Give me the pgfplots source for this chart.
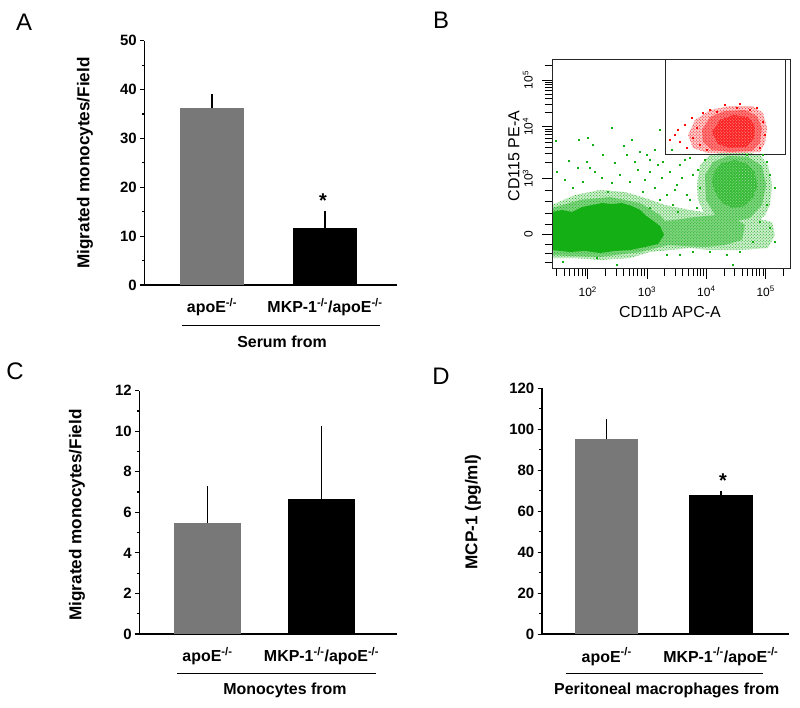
\documentclass[border=0pt]{standalone}
\usepackage{pgfplots}
\pgfplotsset{compat=1.18}
\usepackage{fontspec}
\setmainfont{Liberation Sans}
\usetikzlibrary{patterns}
\definecolor{bargray}{RGB}{120,120,120}
\definecolor{flowgreen}{RGB}{20,175,20}
\definecolor{flowred}{RGB}{250,10,10}
\pgfplotsset{
  barpanel/.style={
    scale only axis, anchor=south west,
    axis lines=left, axis line style={-, line width=1.6bp, black},
    ymin=0, xtick={1,2},
    xtick style={draw=none},
    ytick style={line width=1.2bp, black},
    tick align=outside, major tick length=4bp, minor tick length=2.5bp,
    minor y tick num=1,
    x tick label style={font=\bfseries\fontsize{16}{19}\selectfont, yshift=-6bp},
    y tick label style={font=\bfseries\fontsize{15}{18}\selectfont},
    /pgf/number format/assume math mode=true,
    xticklabels={apoE\textsuperscript{-/-}, MKP-1\textsuperscript{-/-}/apoE\textsuperscript{-/-}},
    clip=false,
  },
  errbar/.style={ybar, bar shift=0pt, draw=none,
    error bars/y dir=plus, error bars/y explicit,
    error bars/error bar style={line width=1.5bp, black},
    error bars/error mark options={line width=1.5bp, black, mark size=2bp}},
  medium/.style={draw=none, fill=#1!22, postaction={pattern=crosshatch dots, pattern color=#1}},
  semi/.style={draw=none, fill=#1!55, postaction={pattern=crosshatch dots, pattern color=#1}},
}
\begin{document}
\begin{tikzpicture}
\useasboundingbox (0,0) rectangle (800bp,708bp);

% ---------------- Panel A ----------------
\begin{axis}[barpanel, at={(144.3bp,423bp)}, width=252.7bp, height=244.3bp,
  xmin=0.401, xmax=2.637, ymax=50, ytick={0,10,20,30,40,50}]
\addplot[errbar, bar width=64bp, fill=bargray] coordinates {(1,36.2) +- (0,2.4)};
\addplot[errbar, bar width=64bp, fill=black] coordinates {(2,11.6) +- (0,3.1)};
\end{axis}
\node[font=\fontsize{24}{28}\selectfont] at (24bp,686bp) {A};
\node[rotate=90, font=\bfseries\fontsize{17.2}{20}\selectfont] at (85bp,545bp) {Migrated monocytes/Field};
\node[font=\bfseries\fontsize{20}{24}\selectfont] at (323bp,507bp) {*};
\draw[line width=1bp] (182bp,382bp) -- (380bp,382bp);
\node[font=\bfseries\fontsize{16}{19}\selectfont] at (282bp,366bp) {Serum from};

% ---------------- Panel C ----------------
\begin{axis}[barpanel, at={(139.3bp,74bp)}, width=257.7bp, height=243.3bp,
  xmin=0.402, xmax=2.662, ymax=12, ytick={0,2,4,6,8,10,12}]
\addplot[errbar, bar width=67bp, fill=bargray] coordinates {(1,5.47) +- (0,1.74)};
\addplot[errbar, bar width=67bp, fill=black] coordinates {(2,6.66) +- (0,3.48)};
\end{axis}
\node[font=\fontsize{24}{28}\selectfont] at (15bp,336.5bp) {C};
\node[rotate=90, font=\bfseries\fontsize{17.2}{20}\selectfont] at (77bp,193bp) {Migrated monocytes/Field};
\draw[line width=1bp] (177bp,34bp) -- (376bp,34bp);
\node[font=\bfseries\fontsize{16}{19}\selectfont] at (285bp,18bp) {Monocytes from};

% ---------------- Panel D ----------------
\begin{axis}[barpanel, at={(541.7bp,73.7bp)}, width=247.3bp, height=246bp,
  xmin=0.430, xmax=2.598, ymax=120, ytick={0,20,40,60,80,100,120}]
\addplot[errbar, bar width=63.5bp, fill=bargray] coordinates {(1,95.4) +- (0,8.8)};
\addplot[errbar, bar width=63.5bp, fill=black] coordinates {(2,68.0) +- (0,1.1)};
\end{axis}
\node[font=\fontsize{24}{28}\selectfont] at (441bp,332bp) {D};
\node[rotate=90, font=\bfseries\fontsize{17.2}{20}\selectfont] at (473bp,196bp) {MCP-1 (pg/ml)};
\node[font=\bfseries\fontsize{20}{24}\selectfont] at (723bp,227bp) {*};
\draw[line width=1bp] (565.7bp,34bp) -- (763.3bp,34bp);
\node[font=\bfseries\fontsize{16}{19}\selectfont] at (666.7bp,18bp) {Peritoneal macrophages from};

% ---------------- Panel B ----------------
\begin{axis}[scale only axis, anchor=south west, at={(552bp,439bp)}, width=238bp, height=209bp,
  xmin=1.398, xmax=5.41, ymin=-0.682, ymax=3.392,
  axis line style={line width=1bp, black!85},
  xtick={2,3,4,5}, xticklabels={10\textsuperscript{2},10\textsuperscript{3},10\textsuperscript{4},10\textsuperscript{5}},
  minor xtick={1.477,1.602,1.699,1.778,1.845,1.903,1.954,
    2.301,2.477,2.602,2.699,2.778,2.845,2.903,2.954,
    3.301,3.477,3.602,3.699,3.778,3.845,3.903,3.954,
    4.301,4.477,4.602,4.699,4.778,4.845,4.903,4.954,5.301},
  ytick={0,1.086,2.092,3.002}, yticklabels={0,10\textsuperscript{3},10\textsuperscript{4},10\textsuperscript{5}},
  minor ytick={-0.546,-0.370,-0.195,0.195,0.409,0.63,0.858,
    1.389,1.566,1.692,1.789,1.869,1.936,1.995,2.046,
    2.366,2.526,2.640,2.728,2.800,2.861,2.914,2.960,3.276},
  xtick pos=bottom, ytick pos=left,
  tick align=outside, major tick length=10bp, minor tick length=7.5bp,
  tick style={line width=0.9bp, black},
  x tick label style={font=\fontsize{12}{14}\selectfont, yshift=-4bp},
  y tick label style={font=\fontsize{12}{14}\selectfont, rotate=90, anchor=south, inner sep=9bp},
  axis on top]
% medium-density green
\addplot[medium=flowgreen] coordinates {
 (1.398,0.565) (1.786,0.760) (2.207,0.858) (2.629,0.819) (2.966,0.702) (3.303,0.565)
 (3.724,0.468) (4.061,0.409) (4.398,0.370) (4.820,0.312) (5.107,0.234) (5.157,-0.019)
 (5.039,-0.273) (4.567,-0.312) (4.061,-0.312) (3.724,-0.273) (3.387,-0.312) (3.050,-0.351)
 (2.713,-0.468) (2.207,-0.507) (1.786,-0.468) (1.398,-0.468)} -- cycle;
\addplot[medium=flowgreen] coordinates {
 (3.893,1.345) (4.061,1.540) (4.314,1.598) (4.651,1.598) (4.904,1.540) (5.039,1.345)
 (5.107,0.955) (5.073,0.565) (4.989,0.370) (4.820,0.175) (4.483,0.078) (4.146,0.175)
 (3.977,0.370) (3.859,0.663) (3.843,0.955)} -- cycle;
% semi-dense green
\addplot[semi=flowgreen] coordinates {
 (3.084,0.234) (3.472,0.273) (3.809,0.331) (4.146,0.370) (4.483,0.312) (4.651,0.175)
 (4.601,-0.117) (4.314,-0.214) (3.977,-0.253) (3.640,-0.234) (3.303,-0.214) (3.084,-0.117)} -- cycle;
\addplot[semi=flowgreen] coordinates {
 (1.398,0.507) (1.870,0.663) (2.376,0.721) (2.882,0.604) (3.219,0.370) (3.421,0.078)
 (3.354,-0.214) (2.882,-0.351) (2.207,-0.448) (1.702,-0.429) (1.398,-0.409)} -- cycle;
\addplot[semi=flowgreen] coordinates {
 (3.977,1.150) (4.112,1.404) (4.365,1.521) (4.702,1.501) (4.938,1.326) (5.006,0.955)
 (4.938,0.565) (4.736,0.312) (4.432,0.234) (4.146,0.370) (3.994,0.663)} -- cycle;
% dense green cores
\addplot[draw=none, fill=flowgreen] coordinates {
 (1.398,0.429) (1.567,0.468) (1.736,0.429) (1.904,0.526) (2.073,0.565) (2.241,0.604)
 (2.410,0.585) (2.578,0.604) (2.746,0.546) (2.882,0.468) (2.966,0.370) (3.084,0.273)
 (3.219,0.156) (3.286,-0.019) (3.185,-0.195) (2.966,-0.253) (2.713,-0.312) (2.460,-0.331)
 (2.207,-0.370) (1.955,-0.331) (1.702,-0.351) (1.398,-0.312)} -- cycle;
\addplot[draw=none, fill=flowgreen!85, postaction={pattern=crosshatch dots, pattern color=flowgreen!40}] coordinates {
 (4.129,1.209) (4.264,1.384) (4.483,1.442) (4.685,1.365) (4.820,1.189) (4.854,0.936)
 (4.786,0.702) (4.651,0.546) (4.449,0.507) (4.264,0.604) (4.146,0.819) (4.095,1.014)} -- cycle;
% sparse green events
\addplot[only marks, mark=square*, mark size=0.6bp, flowgreen] coordinates {
 (1.466,1.813) (1.853,1.832) (2.005,1.871) (2.090,1.735) (2.612,1.715) (1.482,1.209)
 (1.685,1.423) (1.988,1.404) (2.039,1.287) (2.258,1.540) (2.460,1.384) (2.662,1.540)
 (2.797,1.404) (2.882,1.598) (3.000,1.540) (3.135,1.637) (3.219,2.027) (1.752,0.897)
 (1.921,1.014) (2.241,1.092) (2.410,0.994) (2.544,1.150) (2.713,1.014) (2.848,1.248)
 (3.050,1.209) (3.185,1.345) (2.932,0.819) (1.584,-0.546) (2.494,-0.604) (2.157,-0.468)
 (3.269,1.404) (3.387,1.209) (3.556,1.345) (3.724,1.482) (3.775,1.150) (3.505,0.955)
 (3.337,0.760) (3.674,0.760) (3.893,0.897) (3.438,0.565) (3.843,0.507) (5.022,1.404)
 (5.073,1.150) (5.157,0.897) (5.022,0.565) (4.904,0.234) (5.073,0.117) (5.157,-0.156)
 (4.786,-0.156) (4.567,-0.351) (4.348,-0.409) (4.061,-0.351) (3.775,-0.351) (3.556,-0.409)
 (4.449,-0.604) (3.337,-0.409) (4.955,1.540) (4.685,1.540) (2.966,1.053) (3.135,0.897)
 (3.253,1.092) (3.472,0.858) (3.590,1.092) (3.724,0.663) (3.522,0.429) (3.219,0.663)
 (3.050,0.507) (3.977,1.442) (3.859,1.248) (3.640,1.442) (3.421,1.637) (3.050,1.442)
 (2.342,0.819) (2.123,1.209) (1.617,1.053) (1.837,1.287) (2.746,1.832) (2.410,2.066)};
% red gated population
\addplot[medium=flowred] coordinates {
 (3.691,1.930) (3.809,2.222) (4.061,2.417) (4.398,2.495) (4.769,2.495) (4.955,2.359)
 (5.022,2.066) (4.989,1.774) (4.904,1.598) (4.483,1.579) (4.028,1.579) (3.775,1.676)} -- cycle;
\addplot[semi=flowred] coordinates {
 (3.927,2.027) (4.061,2.281) (4.314,2.398) (4.651,2.417) (4.854,2.300) (4.938,2.066)
 (4.904,1.774) (4.769,1.618) (4.398,1.598) (4.095,1.637) (3.944,1.793)} -- cycle;
\addplot[draw=none, fill=flowred!90, postaction={pattern=crosshatch dots, pattern color=flowred!40}] coordinates {
 (4.095,1.988) (4.230,2.222) (4.449,2.320) (4.702,2.281) (4.820,2.105) (4.803,1.871)
 (4.668,1.696) (4.398,1.676) (4.196,1.754)} -- cycle;
\addplot[only marks, mark=square*, mark size=0.6bp, flowred] coordinates {
 (3.472,1.930) (3.556,1.793) (3.758,2.262) (3.843,2.066) (3.674,1.676) (3.944,2.359)
 (4.061,2.417) (4.854,2.456) (4.955,2.183) (4.989,1.930) (4.904,1.676) (4.736,2.417)
 (3.893,1.735) (4.011,1.637) (4.179,2.378) (4.516,2.456) (3.775,1.871) (3.522,2.027)
 (3.640,2.125) (3.387,1.832) (4.567,2.534) (4.314,2.515)};
% gate
\addplot[black!85, line width=1bp] coordinates {(3.315,3.392) (3.315,1.554) (5.342,1.554) (5.342,3.392)};
\end{axis}
\node[font=\fontsize{24}{28}\selectfont] at (441bp,688bp) {B};
\node[font=\fontsize{16}{19}\selectfont] at (670bp,396.3bp) {CD11b APC-A};
\node[rotate=90, font=\fontsize{16}{19}\selectfont] at (514bp,552bp) {CD115 PE-A};
\end{tikzpicture}
\end{document}
